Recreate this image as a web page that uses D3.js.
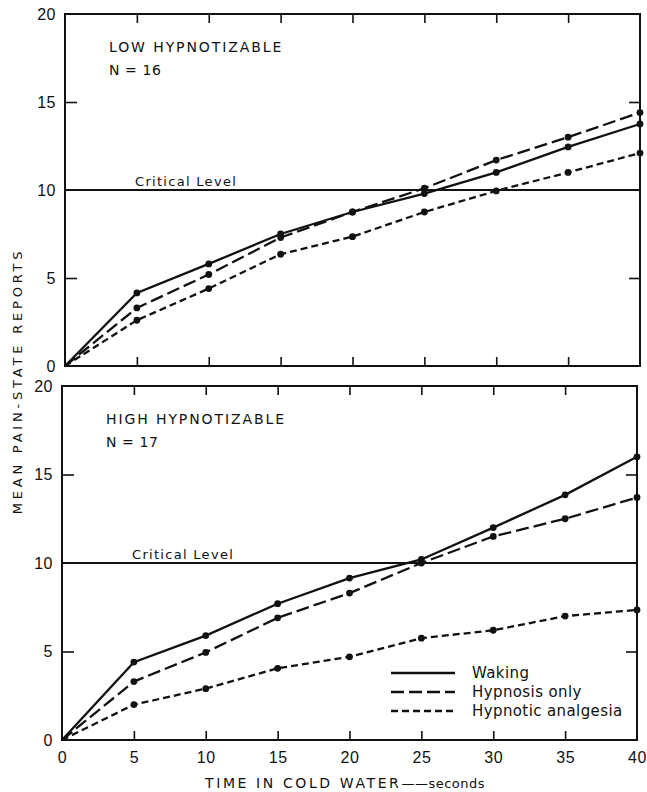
<!DOCTYPE html>
<html>
<head>
<meta charset="utf-8">
<script src="https://cdn.jsdelivr.net/npm/d3@7"></script>
<style>
  body { margin: 0; background: #fff; }
  svg { font-family: "DejaVu Sans", sans-serif; }
  .domain { display: none; }
</style>
</head>
<body>
<div id="chart-area"></div>
<script>
// data
const times = [0, 5, 10, 15, 20, 25, 30, 35, 40]
const seriesNames = ["Waking", "Hypnosis only", "Hypnotic analgesia"]

const lowWaking    = [0, 4.15, 5.8, 7.5, 8.75, 9.8, 11.0, 12.45, 13.75]
const lowHypnosis  = [0, 3.3, 5.2, 7.3, 8.75, 10.1, 11.7, 13.0, 14.4]
const lowAnalgesia = [0, 2.6, 4.4, 6.35, 7.35, 8.75, 9.95, 11.0, 12.1]

const highWaking    = [0, 4.4, 5.9, 7.7, 9.15, 10.2, 12.0, 13.85, 16.0]
const highHypnosis  = [0, 3.3, 4.95, 6.9, 8.3, 10.0, 11.5, 12.5, 13.7]
const highAnalgesia = [0, 2.0, 2.9, 4.05, 4.7, 5.75, 6.2, 7.0, 7.35]

const xTicks = [0, 5, 10, 15, 20, 25, 30, 35, 40]
const yTicks = [0, 5, 10, 15, 20]
const criticalLevel = 10

const chartAreaWidth = 647
const chartAreaHeight = 792

const dashes = ["none", "13,5", "7,4"]

const svg = d3.select("#chart-area").append("svg")
    .attr("width", chartAreaWidth)
    .attr("height", chartAreaHeight);

const panels = [
    { title: "LOW HYPNOTIZABLE", n: "N = 16", left: 65, right: 640, top: 14, bottom: 366,
      series: [lowWaking, lowHypnosis, lowAnalgesia], xLabels: false, legend: false },
    { title: "HIGH HYPNOTIZABLE", n: "N = 17", left: 62, right: 637, top: 386, bottom: 740,
      series: [highWaking, highHypnosis, highAnalgesia], xLabels: true, legend: true }
];

panels.forEach(drawPanel);

function drawPanel(p) {
    const x = d3.scaleLinear().domain([0, 40]).range([p.left, p.right]);
    const y = d3.scaleLinear().domain([0, 20]).range([p.bottom, p.top]);
    const g = svg.append("g");

    // frame
    g.append("rect")
        .attr("x", p.left).attr("y", p.top)
        .attr("width", p.right - p.left).attr("height", p.bottom - p.top)
        .attr("fill", "none").attr("stroke", "#111").attr("stroke-width", 2);

    // inward ticks on all four sides
    const inner = xTicks.slice(1, -1);
    g.append("g").attr("transform", `translate(0,${p.bottom})`)
        .call(d3.axisBottom(x).tickValues(inner).tickSize(-9).tickFormat(""))
        .selectAll("line").attr("stroke", "#111").attr("stroke-width", 1.6);
    g.append("g").attr("transform", `translate(0,${p.top})`)
        .call(d3.axisTop(x).tickValues(inner).tickSize(-9).tickFormat(""))
        .selectAll("line").attr("stroke", "#111").attr("stroke-width", 1.6);
    g.append("g").attr("transform", `translate(${p.left},0)`)
        .call(d3.axisLeft(y).tickValues([5, 15]).tickSize(-12).tickFormat(""))
        .selectAll("line").attr("stroke", "#111").attr("stroke-width", 1.6);
    g.append("g").attr("transform", `translate(${p.right},0)`)
        .call(d3.axisRight(y).tickValues([5, 15]).tickSize(-11).tickFormat(""))
        .selectAll("line").attr("stroke", "#111").attr("stroke-width", 1.6);

    // y tick labels
    g.append("g").attr("transform", `translate(${p.left},0)`)
        .call(d3.axisLeft(y).tickValues(yTicks).tickSize(0).tickPadding(9).tickFormat(d3.format("d")))
        .selectAll("text").attr("font-size", 16).attr("letter-spacing", 0.5).attr("fill", "#111");

    if (p.xLabels) {
        g.append("g").attr("transform", `translate(0,${p.bottom})`)
            .call(d3.axisBottom(x).tickValues(xTicks).tickSize(0).tickPadding(12))
            .selectAll("text").attr("font-size", 16).attr("letter-spacing", 0.5).attr("fill", "#111");
    }

    // critical level
    g.append("line")
        .attr("x1", p.left).attr("x2", p.right)
        .attr("y1", y(criticalLevel)).attr("y2", y(criticalLevel))
        .attr("stroke", "#111").attr("stroke-width", 1.8);
    g.append("text")
        .attr("x", p.left + 70).attr("y", y(criticalLevel) - 4)
        .attr("font-size", 13).attr("letter-spacing", 1.3).attr("fill", "#111")
        .text("Critical Level");

    // titles
    g.append("text")
        .attr("x", p.left + 44).attr("y", p.top + 38)
        .attr("font-size", 14).attr("letter-spacing", 1.9).attr("fill", "#111")
        .text(p.title);
    g.append("text")
        .attr("x", p.left + 44).attr("y", p.top + 61)
        .attr("font-size", 14).attr("letter-spacing", 0.6).attr("fill", "#111")
        .text(p.n);

    // series
    const line = d3.line()
        .x((d, i) => x(times[i]))
        .y(d => y(d));

    p.series.forEach((vals, k) => {
        g.append("path")
            .datum(vals)
            .attr("fill", "none")
            .attr("stroke", "#111")
            .attr("stroke-width", 2.3)
            .attr("stroke-dasharray", dashes[k])
            .attr("d", line);
        g.selectAll(null)
            .data(vals.slice(1))
            .join("circle")
            .attr("cx", (d, i) => x(times[i + 1]))
            .attr("cy", d => y(d))
            .attr("r", 3.4)
            .attr("fill", "#111");
    });

    if (p.legend) {
        const lg = g.append("g");
        seriesNames.forEach((name, k) => {
            const ly = 673 + k * 19;
            lg.append("line")
                .attr("x1", 391).attr("x2", 455)
                .attr("y1", ly).attr("y2", ly)
                .attr("stroke", "#111").attr("stroke-width", 2.3)
                .attr("stroke-dasharray", dashes[k]);
            lg.append("text")
                .attr("x", 472).attr("y", ly + 5)
                .attr("font-size", 15).attr("letter-spacing", 0.4).attr("fill", "#111")
                .text(name);
        });
    }
}

// y axis label
svg.append("text")
    .attr("transform", "translate(22,381) rotate(-90)")
    .attr("text-anchor", "middle")
    .attr("font-size", 13)
    .attr("letter-spacing", 3.8)
    .attr("fill", "#111")
    .text("MEAN PAIN-STATE REPORTS");

// x axis label
const xl = svg.append("text")
    .attr("x", 205).attr("y", 788)
    .attr("font-size", 14)
    .attr("fill", "#111");
xl.append("tspan").attr("letter-spacing", 2.6).text("TIME IN COLD WATER");
xl.append("tspan").attr("font-size", 13).attr("letter-spacing", 0.5).text("\u2014\u2014seconds");
</script>
</body>
</html>
